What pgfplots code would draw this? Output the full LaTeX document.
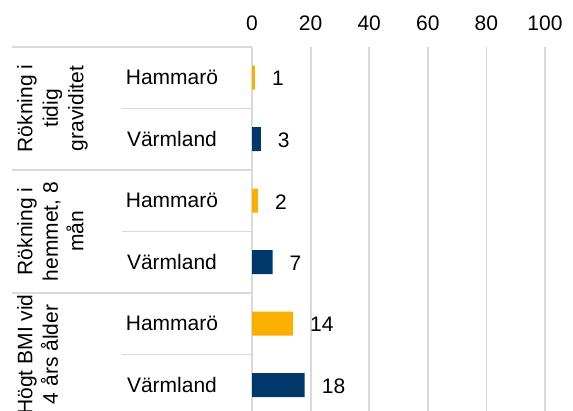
\documentclass[border=0pt]{standalone}
\usepackage{pgfplots}
\pgfplotsset{compat=1.18}
\usepackage{fontspec}
\setmainfont{Liberation Sans}
\definecolor{cyellow}{RGB}{250,176,0}
\definecolor{cblue}{RGB}{0,56,108}
\definecolor{cgrid}{RGB}{217,217,217}
\begin{document}
\begin{tikzpicture}[font=\fontsize{21}{24}\selectfont]
\path[use as bounding box] (0pt,0pt) rectangle (573pt,411pt);
\begin{scope}
\clip (0pt,0pt) rectangle (573pt,411pt);
\begin{axis}[
  at={(252pt,364pt)}, anchor=north west,
  scale only axis, width=293pt, height=369pt,
  xmin=0, xmax=100, ymin=-0.5, ymax=5.5, y dir=reverse,
  xtick={0,20,...,100}, xticklabel pos=upper,
  ytick={0,...,5},
  yticklabels={Hammarö,Värmland,Hammarö,Värmland,Hammarö,Värmland},
  axis line style={draw=none},
  major tick length=0pt,
  xmajorgrids, grid style={cgrid, line width=1.8pt},
  xbar, bar width=24pt, bar shift=0pt,
  nodes near coords,
  every node near coord/.append style={anchor=west, inner sep=0pt, xshift=17pt, yshift=-1pt, font=\fontsize{21}{24}\selectfont, text=black},
  clip=false,
  /pgf/number format/assume math mode=true,
  tick label style={font=\fontsize{21}{24}\selectfont, text=black},
  xticklabel style={yshift=13pt},
  yticklabel style={anchor=center, xshift=-80pt},
]
\addplot[fill=cyellow, draw=none] coordinates {(1,0) (2,2) (14,4)};
\addplot[fill=cblue, draw=none] coordinates {(3,1) (7,3) (18,5)};
\end{axis}
\begin{scope}[cgrid, line width=1.8pt]
\draw (12pt,364pt) -- (252pt,364pt);
\draw (122pt,302.5pt) -- (252pt,302.5pt);
\draw (12pt,241pt) -- (252pt,241pt);
\draw (122pt,179.5pt) -- (252pt,179.5pt);
\draw (12pt,118pt) -- (252pt,118pt);
\draw (122pt,56.5pt) -- (252pt,56.5pt);
\end{scope}
\begin{scope}[every node/.style={rotate=90, anchor=north, align=center, inner sep=0pt, font=\fontsize{21}{25.5}\selectfont}]
\node at (17pt,302.5pt) {Rökning i\\tidig\\graviditet};
\node at (17pt,179.5pt) {Rökning i\\hemmet, 8\\mån};
\node at (17pt,56.5pt) {Högt BMI vid\\4 års ålder};
\end{scope}
\end{scope}
\end{tikzpicture}
\end{document}
